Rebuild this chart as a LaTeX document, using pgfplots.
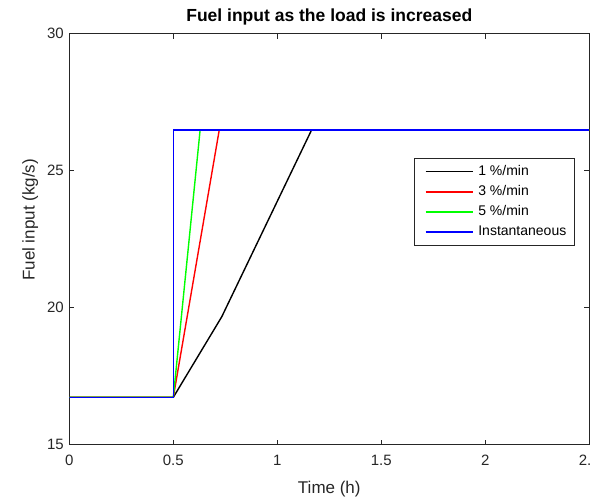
\documentclass[border=0pt]{standalone}
\usepackage{pgfplots}
\pgfplotsset{compat=1.18}
\usepackage{fontspec}
\setmainfont{Liberation Sans}
\definecolor{axgray}{gray}{0.15}
\definecolor{mgreen}{rgb}{0,1,0}
\definecolor{mred}{rgb}{1,0,0}
\definecolor{mblue}{rgb}{0,0,1}
\begin{document}
\begin{tikzpicture}
\begin{axis}[
  scale only axis, width=520pt, height=411pt,
  xmin=0, xmax=2.5, ymin=15, ymax=30,
  xtick={0,0.5,1,1.5,2,2.5}, ytick={15,20,25,30},
  axis line style={axgray, line width=0.9pt},
  tick style={axgray, line width=0.9pt},
  major tick length=5pt,
  tick align=inside,
  /pgf/number format/assume math mode=true,
  tick label style={font=\fontsize{15}{18}\selectfont, text=axgray},
  xticklabel style={yshift=-7pt},
  yticklabel style={xshift=-2pt},
  title={Fuel input as the load is increased},
  title style={font=\bfseries\fontsize{17.5}{20}\selectfont, at={(axis description cs:0.5,1)}, anchor=base, yshift=6pt},
  xlabel={Time (h)},
  ylabel={Fuel input (kg/s)},
  xlabel style={font=\fontsize{17}{20}\selectfont, text=axgray, at={(axis description cs:0.5,-0.108)}, anchor=center},
  ylabel style={font=\fontsize{17}{20}\selectfont, text=axgray, at={(axis description cs:-0.075,0.547)}, anchor=center},
  legend style={at={(axis description cs:0.972,0.697)}, anchor=north east, draw=axgray, line width=0.9pt,
    font=\fontsize{14}{16}\selectfont, inner xsep=5pt, inner ysep=3pt, column sep=2pt,
    nodes={inner xsep=3pt, inner ysep=3.05pt, text height=10.5pt, text depth=3.5pt, text=black}},
  legend cell align=left,
  legend image code/.code={\path (0pt,0pt); \draw[#1] (5pt,0pt) -- (52pt,0pt);},
]
\addplot[color=black, line width=1.4pt] coordinates {(0,16.73) (0.5,16.73) (0.733,19.67) (1.165,26.49) (2.5,26.49)};
\addlegendentry{1 \%/min}
\addplot[color=mred, line width=1.4pt] coordinates {(0,16.73) (0.5,16.73) (0.721,26.49) (2.5,26.49)};
\addlegendentry{3 \%/min}
\addplot[color=mgreen, line width=1.4pt] coordinates {(0,16.73) (0.5,16.73) (0.629,26.49) (2.5,26.49)};
\addlegendentry{5 \%/min}
\addplot[color=mblue, line width=1.4pt] coordinates {(0,16.73) (0.5,16.73) (0.5,26.49) (2.5,26.49)};
\addlegendentry{Instantaneous}
\coordinate (sw) at (rel axis cs:0,0);
\coordinate (ne) at (rel axis cs:1,1);
\end{axis}
\pgfresetboundingbox
\path ([shift={(-69.3pt,-52.3pt)}]sw) rectangle ([shift={(0.7pt,33.7pt)}]ne);
\end{tikzpicture}
\end{document}
